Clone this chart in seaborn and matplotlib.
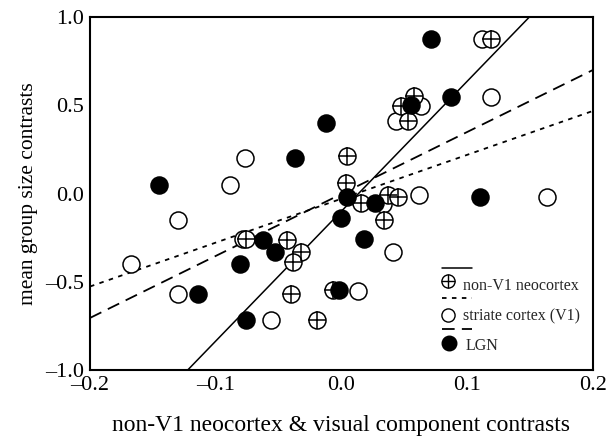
import matplotlib
matplotlib.use("Agg")
import matplotlib.pyplot as plt
import seaborn as sns
import pandas as pd
import numpy as np

# ---- data ----
neo_x = [0.004, 0.0037, 0.119, 0.0576, 0.047, 0.053, 0.0157, 0.037, 0.045, 0.034,
         -0.007, -0.076, -0.0436, -0.032, -0.0388, -0.040, -0.0197]
neo_y = [0.21, 0.058, 0.877, 0.55, 0.494, 0.41, -0.055, -0.01, -0.018, -0.15,
         -0.545, -0.257, -0.266, -0.33, -0.39, -0.568, -0.715]

v1_x = [-0.077, -0.089, 0.112, 0.119, 0.0635, 0.0436, 0.062, 0.1636, 0.041, 0.013,
        -0.13, -0.1676, -0.0787, -0.13, -0.056, 0.033]
v1_y = [0.20, 0.05, 0.877, 0.547, 0.494, 0.41, -0.01, -0.018, -0.33, -0.555,
        -0.15, -0.40, -0.257, -0.568, -0.715, -0.06]

lgn_x = [-0.012, -0.037, -0.145, 0.0715, 0.087, 0.0555, 0.004, 0.027, 0.11, 0.0,
         0.018, -0.002, -0.0627, -0.0526, -0.081, -0.1145, -0.076]
lgn_y = [0.40, 0.20, 0.05, 0.877, 0.547, 0.50, -0.018, -0.055, -0.018, -0.14,
         -0.26, -0.545, -0.266, -0.334, -0.40, -0.568, -0.715]

# fitted lines (endpoints)
neo_line_x = [-0.125, 0.152]
neo_line_y = [-1.02, 1.019]
v1_line_x = [-0.2, 0.2]
v1_line_y = [-0.527, 0.468]
lgn_line_x = [-0.2, 0.2]
lgn_line_y = [-0.705, 0.700]

legend_labels = ["non-V1 neocortex", "striate cortex (V1)", "LGN"]
xticks = [-0.2, -0.1, 0.0, 0.1, 0.2]
yticks = [-1.0, -0.5, 0.0, 0.5, 1.0]

# ---- style ----
sns.set_style("white")
plt.rcParams['font.family'] = ['Liberation Serif', 'DejaVu Serif']
plt.rcParams['axes.unicode_minus'] = True

fig = plt.figure(figsize=(6.11, 4.42), dpi=100)
ax = fig.add_axes([0.1473, 0.1629, 0.8232, 0.7986])

MS = 150
LW = 1.1

# lines
sns.lineplot(x=neo_line_x, y=neo_line_y, ax=ax, color="black", lw=1.1,
             linestyle="-", sort=False)
sns.lineplot(x=v1_line_x, y=v1_line_y, ax=ax, color="black", lw=1.3,
             linestyle=(0, (2.5, 3)), sort=False)
sns.lineplot(x=lgn_line_x, y=lgn_line_y, ax=ax, color="black", lw=1.3,
             linestyle=(0, (7, 4)), sort=False)

# points
sns.scatterplot(x=v1_x, y=v1_y, ax=ax, s=MS, marker="o", facecolor="white",
                edgecolor="black", linewidth=LW, zorder=3)
sns.scatterplot(x=neo_x, y=neo_y, ax=ax, s=MS, marker="o", facecolor="white",
                edgecolor="black", linewidth=LW, zorder=4)
sns.scatterplot(x=neo_x, y=neo_y, ax=ax, s=MS, marker="+", color="black",
                linewidth=LW, zorder=5)
sns.scatterplot(x=lgn_x, y=lgn_y, ax=ax, s=MS, marker="o", facecolor="black",
                edgecolor="black", linewidth=LW, zorder=6)

ax.set_xlim(-0.2, 0.2)
ax.set_ylim(-1.0, 1.0)
ax.set_xticks(xticks)
ax.set_yticks(yticks)
ax.set_xticklabels([f"{t:.1f}".replace("-", "\u2013") for t in xticks])
ax.set_yticklabels([f"{t:.1f}".replace("-", "\u2013") for t in yticks])
ax.tick_params(direction="inout", length=3, width=2.2, labelsize=16, pad=3,
               color="black", labelcolor="black")
for sp in ax.spines.values():
    sp.set_visible(True)
    sp.set_color("black")
    sp.set_linewidth(1.5)

ax.set_xlabel("non-V1 neocortex & visual component contrasts", fontsize=17,
              labelpad=14, color="black")
ax.set_ylabel("mean group size contrasts", fontsize=15.5, labelpad=5,
              color="black")

# hand-made legend (line above marker)
T = ax.transAxes
lx0, lx1 = 0.699, 0.759
mx = 0.711
tx = 0.742
ax.plot([lx0, lx1], [0.290, 0.290], transform=T, color="black", lw=1.1,
        clip_on=False)
ax.scatter([mx], [0.252], transform=T, s=90, marker="o", facecolor="white",
           edgecolor="black", linewidth=1.0, zorder=7)
ax.scatter([mx], [0.252], transform=T, s=90, marker="+", color="black",
           linewidth=1.0, zorder=8)
ax.text(tx, 0.2266, legend_labels[0], transform=T, fontsize=11.5,
        va="baseline", ha="left")

ax.plot([lx0, lx1], [0.203, 0.203], transform=T, color="black", lw=1.3,
        linestyle=(0, (2.5, 3)))
ax.scatter([mx], [0.156], transform=T, s=90, marker="o", facecolor="white",
           edgecolor="black", linewidth=1.0, zorder=7)
ax.text(tx, 0.1416, legend_labels[1], transform=T, fontsize=11.5,
        va="baseline", ha="left")

ax.plot([lx0, lx1], [0.116, 0.116], transform=T, color="black", lw=1.3,
        linestyle=(0, (7, 4)))
ax.scatter([mx + 0.003], [0.0765], transform=T, s=110, marker="o",
           facecolor="black", edgecolor="black", linewidth=1.0, zorder=7)
ax.text(tx + 0.004, 0.0567, legend_labels[2], transform=T, fontsize=11.5,
        va="baseline", ha="left")

fig.savefig("out.png", dpi=100)
